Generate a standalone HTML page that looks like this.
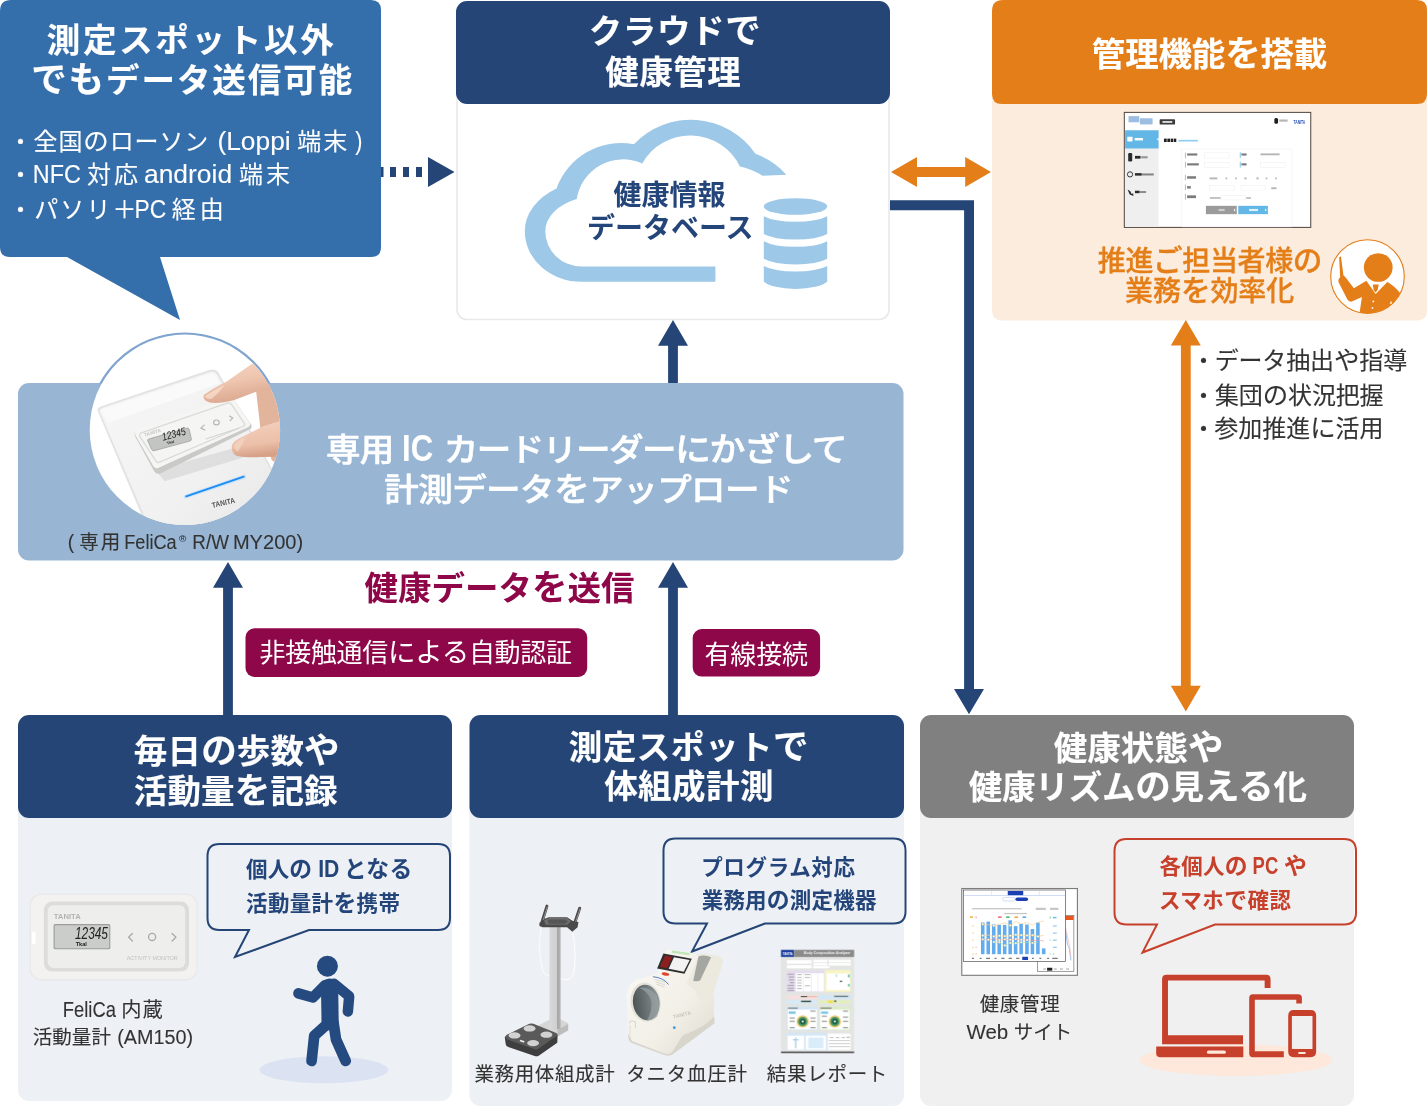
<!DOCTYPE html>
<html lang="ja">
<head>
<meta charset="utf-8">
<title>健康管理サービス 概要図</title>
<style>
html,body{margin:0;padding:0;background:#fff;}
body{width:1427px;height:1116px;overflow:hidden;}
svg{display:block;will-change:transform;}
text{font-family:"Liberation Sans", "Noto Sans CJK JP", sans-serif;white-space:pre;}
</style>
</head>
<body>
<svg width="1427" height="1116" viewBox="0 0 1427 1116" role="img" aria-label="健康管理サービス 概要図">
<!-- boxes -->
<g id="boxes">
  <!-- top-left blue callout -->
  <path d="M0 11 Q0 0 11 0 H371 Q381 0 381 10 V247 Q381 257 371 257 H160 L180 320 L67 257 H10 Q0 257 0 247 Z" fill="#356fab"/>
  <!-- cloud box -->
  <rect x="457" y="50" width="432" height="269.5" rx="10" ry="10" fill="#ffffff" stroke="#e9e9ed" stroke-width="1.6"/>
  <rect x="456" y="1" width="434" height="103" rx="11" ry="11" fill="#244575"/>
  <!-- orange box -->
  <path d="M992 60 H1427 V310 Q1427 320.5 1417 320.5 H1002 Q992 320.5 992 310 Z" fill="#fcecdd"/>
  <path d="M992 11 Q992 0 1003 0 H1417 Q1427 0 1427 10 V94 Q1427 104 1417 104 H1002 Q992 104 992 94 Z" fill="#e47e18"/>
  <!-- middle band -->
  <rect x="18" y="383" width="885.5" height="177.5" rx="11" ry="11" fill="#98b6d4"/>
  <!-- maroon labels -->
  <rect x="245.5" y="628.3" width="341.7" height="48.6" rx="9" ry="9" fill="#8e0849"/>
  <rect x="692.7" y="629.1" width="127.4" height="47.5" rx="9" ry="9" fill="#8e0849"/>
  <!-- bottom panels -->
  <rect x="18" y="760" width="434" height="341" rx="11" ry="11" fill="#edf0f5"/>
  <rect x="18" y="715" width="434" height="103" rx="11" ry="11" fill="#244575"/>
  <rect x="469.5" y="760" width="434.5" height="346" rx="11" ry="11" fill="#edf0f5"/>
  <rect x="469.5" y="715" width="434.5" height="103" rx="11" ry="11" fill="#244575"/>
  <rect x="920" y="760" width="434" height="346" rx="11" ry="11" fill="#f0f0f0"/>
  <rect x="920" y="715" width="434" height="103" rx="11" ry="11" fill="#808080"/>
  <!-- speech bubbles -->
  <path d="M219.500 844 H438 Q450 844 450 856 V918 Q450 930 438 930 H309 L235 957 L249 930 H219.500 Q207.500 930 207.500 918 V856 Q207.500 844 219.500 844 Z" fill="none" stroke="#244575" stroke-width="2"/>
  <path d="M675.500 838.500 H893.500 Q905.500 838.500 905.500 850.500 V911.500 Q905.500 923.500 893.500 923.500 H765 L692 951.500 L707 923.500 H675.500 Q663.500 923.500 663.500 911.500 V850.500 Q663.500 838.500 675.500 838.500 Z" fill="none" stroke="#244575" stroke-width="2"/>
  <path d="M1126.500 839 H1344 Q1356 839 1356 851 V912.500 Q1356 924.500 1344 924.500 H1215 L1142.500 952.500 L1157 924.500 H1126.500 Q1114.500 924.500 1114.500 912.500 V851 Q1114.500 839 1126.500 839 Z" fill="none" stroke="#c7402b" stroke-width="2"/>
</g>
<!-- arrows -->
<g id="arrows">
  <!-- dotted arrow from callout to cloud -->
  <g fill="#244575">
    <rect x="381" y="167" width="2.5" height="10"/>
    <rect x="390" y="167" width="6" height="10"/>
    <rect x="403" y="167" width="6" height="10"/>
    <rect x="416" y="167" width="6" height="10"/>
    <path d="M428 157 L454.500 172 L428 187 Z"/>
  </g>
  <!-- double orange arrow -->
  <path d="M891 172 L917 157 V167 H965.2 V157 L991 172 L965.2 187 V177 H917 V187 Z" fill="#e47e18"/>
  <!-- navy elbow arrow cloud -> panel 3 -->
  <path d="M890 200.300 H974 V689 H984 L969 714.300 L954 689 H964.100 V210.200 H890 Z" fill="#244575"/>
  <!-- up arrows -->
  <path d="M673 320 L688 345.700 H677.900 V383 H668.100 V345.700 H658 Z" fill="#244575"/>
  <path d="M228 562 L243 587.700 H232.900 V715 H223.100 V587.700 H213 Z" fill="#244575"/>
  <path d="M673 562 L688 587.700 H677.900 V715 H668.100 V587.700 H658 Z" fill="#244575"/>
  <!-- orange vertical double arrow -->
  <path d="M1185.800 320 L1200.800 345.600 H1190.700 V685.700 H1200.800 L1185.800 711.400 L1170.800 685.700 H1180.900 V345.600 H1170.800 Z" fill="#e47e18"/>
</g>
<!-- cloud -->
<g id="cloud" fill="#9dc8e8">
  <path d="M715.4 281.8 H581.5 A56.7 50.5 0 0 1 524.8 231.3 A67 50.5 0 0 1 556.5 188.4 A68.6 68.6 0 0 1 633.9 144.3 A78.3 78.3 0 0 1 755.4 153.8 A75.4 75.4 0 0 1 786.4 174.8 L762.6 175.8 A69.7 69.7 0 0 0 739.9 166.5 A55.3 55.3 0 0 0 642.2 163.4 A47.0 47.0 0 0 0 576.7 199.1 A52.7 35.2 0 0 0 545.3 231.3 A36.2 35.2 0 0 0 581.5 266.5 H715.4 Z"/>
  <ellipse cx="795.5" cy="206.5" rx="31.7" ry="8.3"/>
  <path d="M763.8 216.2 A36 10.45 0 0 0 827.2 216.2 V234 A36 10.6 0 0 1 763.8 234 Z"/>
  <path d="M763.8 241.3 A36 10.45 0 0 0 827.2 241.3 V258.8 A36 10.6 0 0 1 763.8 258.8 Z"/>
  <path d="M763.8 266 A36 10.45 0 0 0 827.2 266 V281.4 A33 10.4 0 0 1 763.8 281.4 Z"/>
</g>
<!-- reader -->
<g id="reader">
  <defs>
    <clipPath id="rdclip"><circle cx="184.9" cy="429.8" r="95.2"/></clipPath>
    <clipPath id="ringclip"><rect x="80" y="325" width="210" height="58.6"/></clipPath>
    <linearGradient id="rdbody" x1="0" y1="0" x2="1" y2="1">
      <stop offset="0" stop-color="#f6f6f6"/><stop offset="0.55" stop-color="#f1f1f1"/><stop offset="1" stop-color="#e4e4e4"/>
    </linearGradient>
    <linearGradient id="skin1" x1="0" y1="0" x2="0.3" y2="1">
      <stop offset="0" stop-color="#f6d9c8"/><stop offset="0.6" stop-color="#efc6b0"/><stop offset="1" stop-color="#dba88f"/>
    </linearGradient>
    <linearGradient id="skin2" x1="0" y1="0" x2="0.2" y2="1">
      <stop offset="0" stop-color="#f4d3c1"/><stop offset="0.7" stop-color="#ecc0a9"/><stop offset="1" stop-color="#d7a188"/>
    </linearGradient>
  </defs>
  <circle cx="184.9" cy="429.8" r="95.9" fill="none" stroke="#7fa4cf" stroke-width="3" clip-path="url(#ringclip)"/>
  <circle cx="184.9" cy="429.8" r="95.2" fill="#ffffff"/>
  <g clip-path="url(#rdclip)">
    <g transform="translate(80 325) scale(0.188172)">
      <!-- reader base -->
      <path d="M92 452 Q96 436 118 430 L690 238 Q722 230 738 256 L1130 960 L420 1230 Z" fill="#e3e3e3"/>
      <path d="M104 458 Q106 444 124 438 L690 250 Q716 243 730 264 L1120 960 L430 1220 Z" fill="url(#rdbody)"/>
      <path d="M110 452 L696 256 Q712 252 722 268 L745 310 L150 520 Z" fill="#fbfbfb" opacity="0.9"/>
      <!-- shadow of monitor -->
      <path d="M400 770 L870 640 L930 560 L960 600 L880 700 L450 830 Z" fill="#d9d9d9" opacity="0.8"/>
      <!-- activity monitor -->
      <path d="M300 560 L792 392 Q812 388 824 404 L910 530 Q918 548 900 556 L425 790 Q405 794 395 778 L292 590 Q286 568 300 560 Z" fill="#c9c9c7"/>
      <path d="M300 556 L792 388 Q810 384 820 398 L902 520 Q908 536 892 544 L415 760 Q398 764 390 750 L294 584 Q288 564 300 556 Z" fill="#f5f5f4"/>
      <path d="M322 574 L786 414 Q798 412 804 420 L874 524 Q878 534 868 538 L420 730 Q410 733 404 724 L318 592 Q314 580 322 574 Z" fill="none" stroke="#dadad8" stroke-width="7"/>
      <path d="M364 606 L568 548 Q578 546 580 554 L592 606 Q593 614 584 617 L394 668 Q384 670 381 662 L360 616 Q358 609 364 606 Z" fill="#c3c5c2" stroke="#9d9f9c" stroke-width="4"/>
      <g transform="translate(503 598) rotate(-15)">
        <text x="0" y="0" font-size="58" fill="#1e1e1e" text-anchor="middle" font-style="italic" textLength="128" lengthAdjust="spacingAndGlyphs">12345</text>
        <text x="-28" y="26" font-size="20" font-weight="700" fill="#222222" text-anchor="middle">Tkal</text>
      </g>
      <text transform="translate(388 580) rotate(-17)" x="0" y="0" font-size="26" font-weight="700" fill="#c4c4c4" text-anchor="middle">TANITA</text>
      <g fill="none" stroke="#b3b3b3" stroke-width="6" stroke-linecap="round" stroke-linejoin="round">
        <path d="M660 532 L642 548 L664 558"/>
        <ellipse cx="725" cy="518" rx="15" ry="13"/>
        <path d="M794 484 L812 494 L798 508"/>
      </g>
      <path d="M668 606 L846 548" stroke="#d4d4d4" stroke-width="6" fill="none"/>
      <!-- hand -->
      <path d="M930 300 L1100 250 L1100 760 L1020 720 L960 560 Z" fill="#e3b49c"/>
      <path d="M658 372 Q700 340 780 300 L905 212 Q960 180 1100 150 L1100 340 L960 345 L820 398 Q740 420 690 412 Q650 402 658 372 Z" fill="url(#skin1)"/>
      <path d="M806 650 Q806 620 850 600 L960 545 Q1010 520 1100 505 L1100 700 L960 702 Q880 706 836 696 Q806 686 806 650 Z" fill="url(#skin2)"/>
      <path d="M664 378 Q700 352 770 318 Q740 360 700 392 Q672 396 664 378 Z" fill="#f7dccb" opacity="0.8"/>
      <path d="M818 640 Q830 614 880 596 Q860 640 840 672 Q820 664 818 640 Z" fill="#f3d3c0" opacity="0.8"/>
      <!-- LED + logo -->
      <path d="M562 912 L872 806" stroke="#9fd0ff" stroke-width="22" stroke-linecap="round" opacity="0.45" fill="none"/>
      <path d="M564 911 L870 806" stroke="#1b8df2" stroke-width="9" stroke-linecap="round" fill="none"/>
      <text transform="translate(765 958) rotate(-13)" x="0" y="0" font-size="40" font-weight="700" fill="#555555" text-anchor="middle" textLength="124" lengthAdjust="spacingAndGlyphs">TANITA</text>
    </g>
  </g>
</g>
<!-- admin -->
<g id="admin" transform="translate(1110 105) scale(0.154179)">
  <rect x="93" y="48" width="1209" height="746" fill="#ffffff" stroke="#5a5049" stroke-width="7"/>
  <rect x="98" y="164" width="217" height="626" fill="#efefef"/>
  <rect x="98" y="164" width="217" height="118" fill="#62b7e6"/>
  <path d="M315 212 L303 222 L315 232 Z" fill="#ffffff"/>
  <g fill="#ffffff"><rect x="112" y="206" width="34" height="30" rx="3"/><rect x="160" y="214" width="54" height="16"/></g>
  <g fill="#2a2a2a">
    <rect x="118" y="312" width="26" height="54" rx="8"/><rect x="162" y="330" width="36" height="18"/><rect x="202" y="332" width="42" height="14" opacity="0.45"/>
    <circle cx="130" cy="450" r="17" fill="none" stroke="#2a2a2a" stroke-width="6"/><rect x="162" y="442" width="44" height="16"/><rect x="208" y="444" width="76" height="13" opacity="0.55"/>
    <path d="M114 548 L132 560 L140 578 L150 572 L152 590 L128 580 Z"/><rect x="162" y="556" width="30" height="16"/><rect x="194" y="558" width="40" height="13" opacity="0.5"/>
  </g>
  <g fill="#8bb4dc" opacity="0.85"><rect x="120" y="72" width="70" height="40"/><rect x="194" y="86" width="82" height="40"/></g>
  <rect x="322" y="92" width="100" height="35" rx="6" fill="#3c3c3c"/>
  <rect x="340" y="104" width="64" height="12" fill="#dddddd"/>
  <rect x="1066" y="84" width="24" height="38" rx="10" fill="#1e1e1e"/>
  <rect x="1098" y="94" width="54" height="14" fill="#b5b5b5"/>
  <text x="1228" y="122" font-size="34" font-weight="700" fill="#2a52b8" text-anchor="middle" textLength="76" lengthAdjust="spacingAndGlyphs">TANITA</text>
  <g fill="#222222"><rect x="350" y="218" width="18" height="22"/><rect x="372" y="218" width="18" height="22"/><rect x="394" y="218" width="16" height="22"/><rect x="414" y="218" width="16" height="22"/></g>
  <rect x="444" y="226" width="126" height="11" fill="#8fd0f0"/>
  <rect x="466" y="286" width="714" height="504" fill="#ffffff" stroke="#f0f0f0" stroke-width="4"/>
  <g fill="#62b7e6"><rect x="486" y="308" width="5" height="38"/><rect x="486" y="368" width="5" height="38"/><rect x="486" y="454" width="5" height="34"/><rect x="486" y="516" width="5" height="36"/><rect x="486" y="576" width="5" height="38"/><rect x="842" y="306" width="5" height="38"/><rect x="842" y="368" width="5" height="38"/></g>
  <g fill="#444444" opacity="0.7"><rect x="500" y="314" width="66" height="14"/><rect x="500" y="378" width="76" height="14"/><rect x="500" y="462" width="58" height="16"/><rect x="500" y="526" width="24" height="16"/><rect x="500" y="586" width="58" height="18"/><rect x="852" y="314" width="34" height="14"/><rect x="852" y="378" width="34" height="14"/></g>
  <g fill="#777777" opacity="0.55"><rect x="976" y="314" width="124" height="12"/><rect x="646" y="470" width="50" height="12"/><rect x="750" y="470" width="10" height="12"/><rect x="812" y="470" width="10" height="12"/><rect x="872" y="470" width="14" height="12"/><rect x="950" y="470" width="14" height="12"/><rect x="1010" y="470" width="10" height="12"/><rect x="1072" y="470" width="10" height="12"/><rect x="1046" y="534" width="34" height="12"/><rect x="648" y="598" width="70" height="10"/><rect x="884" y="598" width="30" height="10"/></g>
  <g fill="#ffffff" stroke="#ececec" stroke-width="3"><rect x="612" y="310" width="162" height="34"/><rect x="612" y="374" width="162" height="30"/><rect x="976" y="374" width="160" height="32"/><rect x="646" y="522" width="160" height="30"/><rect x="850" y="522" width="160" height="30"/><rect x="720" y="586" width="160" height="30"/></g>
  <rect x="622" y="654" width="200" height="54" fill="#9b9b9b"/>
  <rect x="832" y="654" width="192" height="54" fill="#62b7e6"/>
  <g fill="#ffffff"><path d="M804 672 L814 681 L804 690 Z"/><path d="M1006 672 L1016 681 L1006 690 Z"/><rect x="902" y="674" width="58" height="14" opacity="0.8"/><rect x="704" y="674" width="40" height="14" opacity="0.5"/></g>
</g>
<!-- presenter -->
<g id="presenter">
  <clipPath id="presclip"><circle cx="1367.5" cy="276.6" r="36.8"/></clipPath>
  <circle cx="1367.5" cy="276.6" r="36.8" fill="#ffffff" stroke="#e47e18" stroke-width="1.1"/>
  <g clip-path="url(#presclip)">
    <g transform="translate(1320 230) scale(0.080645)" fill="#e47e18">
      <circle cx="722" cy="465" r="178"/>
      <path d="M237 338 L260 325 L290 562 Q320 585 335 610 L420 722 L575 628 L690 795 L835 645 Q920 690 1000 790 L1060 1100 H480 L520 832 L388 890 Q355 892 338 860 L232 650 Q218 612 250 585 Z"/>
      <path d="M655 675 H728 L716 742 L690 774 L666 746 Z"/>
      <circle cx="661" cy="886" r="11" fill="#ffffff"/>
      <circle cx="651" cy="966" r="11" fill="#ffffff"/>
      <path d="M862 912 L885 880 L893 915 Z" fill="#ffffff"/>
    </g>
  </g>
</g>
<!-- am150 -->
<g id="am150" transform="translate(20 880) scale(0.16129)">
  <rect x="58" y="84" width="1044" height="540" rx="75" ry="75" fill="#e6e4e4" opacity="0.55"/>
  <rect x="68" y="92" width="1026" height="522" rx="68" ry="68" fill="#f4f2f1"/>
  <rect x="73" y="322" width="24" height="76" rx="8" ry="8" fill="#ffffff"/>
  <rect x="148" y="134" width="900" height="434" rx="52" ry="52" fill="#dcdcdc"/>
  <rect x="172" y="156" width="852" height="390" rx="36" ry="36" fill="#eeeeed"/>
  <text x="293" y="241" font-size="50" font-weight="700" fill="#b4b4b4" text-anchor="middle" textLength="168" lengthAdjust="spacingAndGlyphs">TANITA</text>
  <rect x="208" y="273" width="352" height="157" rx="10" ry="10" fill="#9c9e9b"/>
  <rect x="215" y="280" width="338" height="143" rx="6" ry="6" fill="#cbcdca"/>
  <text x="443" y="368" font-size="100" font-weight="400" fill="#222222" text-anchor="middle" textLength="205" lengthAdjust="spacingAndGlyphs" font-style="italic">12345</text>
  <text x="380" y="409" font-size="32" font-weight="700" fill="#222222" text-anchor="middle" textLength="70" lengthAdjust="spacingAndGlyphs">Tkal</text>
  <g fill="none" stroke="#a9a9a9" stroke-width="8" stroke-linecap="round" stroke-linejoin="round">
    <path d="M697 332 L673 355 L697 378"/>
    <circle cx="819" cy="353" r="22"/>
    <path d="M943 332 L967 355 L943 378"/>
  </g>
  <text x="820" y="499" font-size="30" font-weight="400" fill="#c2c2c2" text-anchor="middle" textLength="316" lengthAdjust="spacingAndGlyphs">ACTIVITY MONITOR</text>
</g>
<!-- walker -->
<g id="walker">
  <ellipse cx="323.9" cy="1069.8" rx="64.3" ry="13.5" fill="#dbe3f3"/>
  <g transform="translate(250 940) scale(0.134409)" fill="none" stroke="#244a80" stroke-linecap="round" stroke-linejoin="round">
    <circle cx="576" cy="195" r="78" fill="#244a80" stroke="none"/>
    <path d="M592 350 L596 610" stroke-width="128"/>
    <path d="M560 335 L468 428 L360 397" stroke-width="78"/>
    <path d="M625 325 L738 418 L728 532" stroke-width="78"/>
    <path d="M575 625 L478 712 L458 900" stroke-width="80"/>
    <path d="M622 620 L640 740 L712 900" stroke-width="80"/>
  </g>
</g>
<!-- scale -->
<g id="scale" transform="translate(490 890) scale(0.175193)">
  <defs>
    <linearGradient id="colg" x1="0" y1="0" x2="1" y2="0">
      <stop offset="0" stop-color="#d9d9d9"/><stop offset="0.68" stop-color="#cfcfcf"/><stop offset="0.7" stop-color="#a6a6a6"/><stop offset="1" stop-color="#b4b4b4"/>
    </linearGradient>
  </defs>
  <!-- cables -->
  <g fill="none" stroke="#ffffff" stroke-width="5" stroke-linecap="round">
    <path d="M292 215 C275 300 285 420 305 470 Q320 492 342 488"/>
    <path d="M472 245 C490 330 492 440 470 495 Q440 525 405 505"/>
  </g>
  <!-- column base -->
  <path d="M278 772 L345 738 H402 L446 760 V800 L385 836 L278 800 Z" fill="#d6d6d6"/>
  <path d="M385 800 L446 765 V800 L385 836 Z" fill="#bdbdbd"/>
  <!-- column -->
  <rect x="339" y="205" width="64" height="590" fill="url(#colg)"/>
  <!-- foot plate -->
  <path d="M84 838 L90 882 Q92 892 104 896 L255 948 Q268 952 280 944 L384 872 L386 828 Z" fill="#3e3e3e"/>
  <path d="M96 826 L224 764 Q236 759 248 764 L378 816 Q392 824 380 834 L276 906 Q264 913 250 908 L96 852 Q78 840 96 826 Z" fill="#5a5a5a"/>
  <g fill="#d2d2d2">
    <ellipse cx="226" cy="790" rx="34" ry="18"/>
    <ellipse cx="140" cy="830" rx="34" ry="18"/>
    <ellipse cx="322" cy="826" rx="34" ry="18"/>
    <ellipse cx="246" cy="874" rx="34" ry="18"/>
  </g>
  <rect x="170" y="858" width="26" height="10" fill="#e8e8e8" transform="rotate(18 183 863)"/>
  <!-- head unit -->
  <path d="M282 188 L300 168 L335 155 H440 L470 176 L505 182 L500 212 L470 238 L440 212 H300 L282 205 Z" fill="#4a4a4a"/>
  <path d="M308 172 L340 158 H438 L462 178 L440 198 H318 Z" fill="#6e6e6e"/>
  <path d="M330 168 H430 L445 180 L430 192 H335 Z" fill="#555555"/>
  <g stroke="#4a4a4a" stroke-width="17" stroke-linecap="round" fill="none">
    <path d="M298 178 L325 92"/>
    <path d="M484 186 L512 104"/>
  </g>
  <g stroke="#9a9a9a" stroke-width="5" stroke-linecap="round" fill="none">
    <path d="M304 170 L327 96"/>
    <path d="M490 178 L514 108"/>
  </g>
</g>
<!-- bpm -->
<g id="bpm" transform="translate(490 890) scale(0.175193)">
  <defs>
    <linearGradient id="bpmg" x1="0" y1="0" x2="1" y2="1">
      <stop offset="0" stop-color="#fbfaf5"/><stop offset="0.6" stop-color="#f1efe6"/><stop offset="1" stop-color="#dedbd0"/>
    </linearGradient>
    <linearGradient id="cuffg" x1="0" y1="0" x2="1" y2="0">
      <stop offset="0" stop-color="#4d5456"/><stop offset="0.55" stop-color="#6d7678"/><stop offset="1" stop-color="#8f9899"/>
    </linearGradient>
  </defs>
  <!-- rear arm-rest wing -->
  <path d="M1150 380 Q1180 360 1230 362 L1310 380 Q1335 392 1328 420 L1275 590 L1282 640 L1270 760 L1040 920 L1060 560 Z" fill="#ece9df"/>
  <path d="M1190 378 Q1230 368 1262 384 L1200 515 Q1185 525 1160 518 Z" fill="#a4a6a2"/>
  <!-- main body -->
  <path d="M780 590 Q790 520 880 500 L960 475 L1000 350 Q1010 340 1030 342 L1150 358 L1190 378 L1120 540 Q1180 560 1200 640 L1270 600 L1280 720 Q1230 770 1190 790 L1100 830 L1040 925 Q1020 942 990 932 L810 862 Q790 850 788 820 Z" fill="url(#bpmg)"/>
  <path d="M788 820 L810 862 L990 932 Q1020 942 1040 925 L1100 830 L1190 790 Q1230 770 1280 720 L1282 760 L1040 940 Q1015 950 990 940 L806 872 Q788 860 788 820 Z" fill="#d8d5ca"/>
  <!-- cuff -->
  <ellipse cx="888" cy="640" rx="86" ry="112" fill="#e4e1d8" transform="rotate(-8 888 640)"/>
  <ellipse cx="892" cy="642" rx="76" ry="102" fill="url(#cuffg)" transform="rotate(-8 892 642)"/>
  <path d="M850 560 Q900 545 950 600 Q975 660 955 720 Q930 745 895 745 Q930 690 920 630 Q900 575 850 560 Z" fill="#9aa3a4" opacity="0.7"/>
  <!-- display -->
  <path d="M990 362 L1152 392 L1110 478 L954 448 Z" fill="#2e2e2e"/>
  <path d="M1050 384 L1140 400 L1106 466 L1020 450 Z" fill="#f2f2f2"/>
  <path d="M1000 374 L1040 382 L1012 446 L970 438 Z" fill="#8e1f1f"/>
  <path d="M1040 346 L1140 360 L1136 372 L1036 358 Z" fill="#bfe6b5"/>
  <ellipse cx="1002" cy="480" rx="22" ry="9" fill="#e0452c" transform="rotate(10 1002 480)"/>
  <path d="M930 495 Q990 500 1020 540" stroke="#3a6fc2" stroke-width="5" fill="none"/>
  <g stroke="#cfccc2" stroke-width="4" fill="none">
    <path d="M940 510 L1000 528"/><path d="M945 524 L1000 542"/><path d="M950 538 L995 553"/>
  </g>
  <!-- door + details -->
  <path d="M796 760 Q796 745 812 748 L830 752 V790" stroke="#d2cfc5" stroke-width="5" fill="none"/>
  <path d="M800 770 L800 850" stroke="#dcd9cf" stroke-width="5" fill="none"/>
  <text transform="translate(1098 722) rotate(-14)" x="0" y="0" font-size="30" font-weight="700" fill="#c9c6bb" text-anchor="middle">TANITA</text>
  <circle cx="1052" cy="786" r="8" fill="#3d9be0"/>
</g>
<!-- report -->
<g id="report" transform="translate(760 935) scale(0.116505)">
  <rect x="180" y="127" width="628" height="888" fill="#e3e5e3"/>
  <rect x="180" y="127" width="112" height="61" fill="#1c3f9e"/>
  <rect x="292" y="127" width="516" height="61" fill="#8a8a8a"/>
  <text x="236" y="172" font-size="36" font-weight="700" fill="#ffffff" text-anchor="middle" textLength="84" lengthAdjust="spacingAndGlyphs">TANITA</text>
  <text x="576" y="168" font-size="34" font-weight="700" font-style="italic" fill="#f4f4f4" text-anchor="middle" textLength="400" lengthAdjust="spacingAndGlyphs">Body Composition Analyzer</text>
  <rect x="180" y="1000" width="628" height="15" fill="#5c5c5c"/>
  <g fill="#ffffff">
    <rect x="230" y="216" width="212" height="30"/><rect x="230" y="258" width="212" height="28"/>
    <rect x="456" y="212" width="122" height="22"/><rect x="590" y="212" width="190" height="22"/>
    <rect x="456" y="240" width="122" height="22"/><rect x="590" y="240" width="190" height="22"/>
    <rect x="456" y="266" width="140" height="20"/>
  </g>
  <rect x="225" y="305" width="326" height="182" fill="#e6dcef"/>
  <g fill="#ffffff">
    <rect x="306" y="328" width="64" height="156"/><rect x="374" y="328" width="64" height="156"/><rect x="442" y="328" width="52" height="156"/><rect x="498" y="328" width="50" height="156"/>
  </g>
  <g fill="#7a7a7a" opacity="0.55">
    <rect x="236" y="332" width="56" height="10"/><rect x="246" y="356" width="46" height="10"/><rect x="246" y="380" width="46" height="10"/><rect x="256" y="404" width="36" height="10"/><rect x="236" y="428" width="56" height="10"/><rect x="236" y="452" width="56" height="10"/><rect x="236" y="472" width="56" height="10"/>
    <rect x="318" y="336" width="40" height="8"/><rect x="318" y="360" width="40" height="8"/><rect x="318" y="384" width="40" height="8"/><rect x="318" y="408" width="40" height="8"/><rect x="318" y="432" width="40" height="8"/><rect x="318" y="456" width="40" height="8"/>
    <rect x="384" y="336" width="46" height="8"/><rect x="384" y="360" width="46" height="8"/><rect x="384" y="432" width="46" height="8"/>
  </g>
  <rect x="555" y="300" width="222" height="188" fill="#f8f4c4"/>
  <rect x="572" y="330" width="198" height="142" fill="#ffffff"/>
  <g fill="#48b4a4"><rect x="756" y="338" width="12" height="26"/><rect x="756" y="420" width="12" height="22"/><rect x="654" y="338" width="5" height="22"/></g>
  <rect x="686" y="392" width="18" height="12" fill="#3a5a4a"/>
  <rect x="225" y="516" width="270" height="34" fill="#f6dfe0"/>
  <rect x="500" y="516" width="276" height="34" fill="#d3e8f7"/>
  <rect x="225" y="560" width="270" height="30" fill="#d6ebf8"/>
  <rect x="500" y="560" width="276" height="30" fill="#e2efc0"/>
  <g fill="#3c4a3c"><rect x="350" y="524" width="56" height="9"/><rect x="352" y="564" width="86" height="12"/><rect x="636" y="522" width="120" height="8"/><rect x="636" y="562" width="18" height="12"/></g>
  <rect x="584" y="562" width="40" height="22" fill="#f4e04c"/>
  <rect x="406" y="524" width="86" height="9" fill="#f4b8a0"/>
  <rect x="228" y="614" width="268" height="202" fill="#d4e7f6"/>
  <rect x="506" y="614" width="270" height="202" fill="#dcecc8"/>
  <rect x="238" y="640" width="250" height="170" fill="#ffffff"/>
  <rect x="516" y="640" width="252" height="170" fill="#ffffff"/>
  <g>
    <circle cx="366" cy="742" r="52" fill="#f3c469"/><circle cx="366" cy="742" r="40" fill="#3f9a68"/><circle cx="366" cy="742" r="24" fill="#1e5b46"/><circle cx="366" cy="742" r="9" fill="#e8f3ec"/>
    <circle cx="642" cy="742" r="52" fill="#f3c469"/><circle cx="642" cy="742" r="40" fill="#3f9a68"/><circle cx="642" cy="742" r="24" fill="#1e5b46"/><circle cx="642" cy="742" r="9" fill="#e8f3ec"/>
  </g>
  <g fill="#555555" opacity="0.6">
    <rect x="254" y="708" width="44" height="10"/><rect x="254" y="736" width="44" height="10"/><rect x="254" y="790" width="44" height="10"/>
    <rect x="432" y="648" width="44" height="10"/><rect x="432" y="708" width="44" height="10"/><rect x="432" y="736" width="44" height="10"/><rect x="432" y="790" width="44" height="10"/>
    <rect x="530" y="692" width="44" height="10"/><rect x="530" y="736" width="44" height="10"/><rect x="530" y="790" width="44" height="10"/>
    <rect x="712" y="648" width="44" height="10"/><rect x="712" y="700" width="44" height="10"/><rect x="712" y="736" width="44" height="10"/><rect x="712" y="790" width="44" height="10"/>
    <rect x="240" y="622" width="84" height="12"/><rect x="518" y="622" width="96" height="12"/>
  </g>
  <g fill="#58b6e0" opacity="0.8"><rect x="246" y="656" width="60" height="20"/><rect x="524" y="656" width="60" height="20"/></g>
  <rect x="228" y="840" width="344" height="150" fill="#d4e7f6"/>
  <rect x="236" y="864" width="142" height="120" fill="#ffffff"/>
  <rect x="392" y="864" width="174" height="120" fill="#ffffff"/>
  <rect x="414" y="880" width="130" height="92" fill="#d9ecf9"/>
  <path d="M306 878 v94 M280 900 h52" stroke="#9cc8ea" stroke-width="10" fill="none"/>
  <rect x="582" y="846" width="194" height="140" fill="#ffffff"/>
  <g fill="#777777" opacity="0.5">
    <rect x="600" y="876" width="30" height="8"/><rect x="650" y="876" width="30" height="8"/><rect x="700" y="876" width="30" height="8"/><rect x="744" y="872" width="24" height="12"/>
    <rect x="590" y="904" width="180" height="6"/><rect x="590" y="930" width="180" height="6"/><rect x="590" y="956" width="180" height="6"/>
  </g>
</g>
<!-- web -->
<g id="web" transform="translate(940 870) scale(0.16129)">
  <rect x="135" y="115" width="717" height="538" fill="#ffffff" stroke="#7d7d7d" stroke-width="7"/>
  <!-- back window -->
  <rect x="604" y="282" width="226" height="346" fill="#ffffff" stroke="#666666" stroke-width="4"/>
  <rect x="606" y="284" width="222" height="26" fill="#e4571e"/>
  <path d="M780 380 L790 460 L800 480 L806 520 L812 560" stroke="#9dbce6" stroke-width="6" fill="none"/>
  <path d="M780 360 L792 420 L804 470 L812 540" stroke="#f3b6b6" stroke-width="4" fill="none"/>
  <rect x="664" y="606" width="32" height="18" fill="#222222"/>
  <g fill="#888888" opacity="0.6"><rect x="640" y="610" width="18" height="8"/><rect x="706" y="610" width="18" height="8"/><rect x="744" y="610" width="18" height="8"/><rect x="782" y="610" width="18" height="8"/></g>
  <!-- front window -->
  <rect x="146" y="124" width="632" height="444" fill="#ffffff" stroke="#444444" stroke-width="4"/>
  <path d="M150 158 H776" stroke="#9db5ee" stroke-width="3"/>
  <rect x="420" y="130" width="96" height="26" fill="#1c3fb4"/>
  <path d="M320 130 V156 M616 130 V156" stroke="#c5d0ee" stroke-width="3"/>
  <rect x="388" y="170" width="80" height="22" rx="11" ry="11" fill="#ffffff" stroke="#a9b9ea" stroke-width="3"/>
  <rect x="468" y="170" width="78" height="22" rx="11" ry="11" fill="#1c3fb4"/>
  <g fill="#9a9a9a" opacity="0.55"><rect x="198" y="236" width="308" height="8"/><rect x="594" y="234" width="62" height="14"/><rect x="682" y="234" width="52" height="14"/><rect x="398" y="266" width="140" height="8"/></g>
  <g><rect x="360" y="288" width="22" height="9" fill="#ef5a6c"/><rect x="410" y="288" width="22" height="9" fill="#38b56a"/><rect x="462" y="288" width="22" height="9" fill="#f5a020"/><rect x="512" y="288" width="22" height="9" fill="#4a9ff0"/></g>
  <g fill="#62acee">
    <rect x="254" y="326" width="22" height="196"/><rect x="288" y="320" width="22" height="202"/><rect x="322" y="338" width="22" height="184"/><rect x="356" y="340" width="22" height="182"/><rect x="390" y="340" width="22" height="182"/><rect x="424" y="312" width="22" height="210"/><rect x="458" y="348" width="22" height="174"/><rect x="492" y="334" width="22" height="188"/><rect x="528" y="338" width="22" height="184"/><rect x="562" y="366" width="22" height="156"/><rect x="596" y="326" width="22" height="196"/><rect x="632" y="486" width="22" height="36"/>
  </g>
  <g fill="none" stroke-width="4">
    <path d="M262 336 L300 340 L334 346 L368 336 L402 328 L436 344 L470 318 L504 334 L540 326 L574 342 L608 324 L644 316" stroke="#f8cf8e"/>
    <path d="M262 406 L300 404 L334 412 L368 408 L402 410 L436 408 L470 402 L504 404 L540 406 L574 404 L608 412 L644 404" stroke="#f8cf8e"/>
    <path d="M262 430 L300 432 L334 426 L368 434 L402 430 L436 432 L470 428 L504 432 L540 434 L574 436 L608 436 L644 440" stroke="#f2a0aa"/>
    <path d="M334 446 L368 448 L402 468 L436 452 L470 454 L504 448 L574 452 L608 448" stroke="#a6dcb4"/>
  </g>
  <g fill="#fffbe0" stroke="#f3d98a" stroke-width="2">
    <circle cx="265" cy="336" r="6"/><circle cx="334" cy="346" r="6"/><circle cx="436" cy="344" r="6"/>
    <circle cx="265" cy="406" r="6"/><circle cx="334" cy="412" r="6"/><circle cx="368" cy="408" r="6"/><circle cx="402" cy="410" r="6"/><circle cx="436" cy="408" r="6"/><circle cx="470" cy="402" r="6"/><circle cx="504" cy="404" r="6"/><circle cx="540" cy="406" r="6"/><circle cx="574" cy="404" r="6"/><circle cx="608" cy="412" r="6"/>
    <circle cx="265" cy="430" r="6"/><circle cx="300" cy="432" r="6"/><circle cx="368" cy="434" r="6"/><circle cx="402" cy="430" r="6"/><circle cx="436" cy="432" r="6"/><circle cx="470" cy="428" r="6"/><circle cx="504" cy="432" r="6"/><circle cx="540" cy="434" r="6"/>
    <circle cx="334" cy="446" r="6"/><circle cx="368" cy="448" r="6"/><circle cx="402" cy="468" r="6"/><circle cx="436" cy="452" r="6"/><circle cx="470" cy="454" r="6"/><circle cx="504" cy="448" r="6"/><circle cx="574" cy="452" r="6"/>
  </g>
  <g fill="#f5a020" opacity="0.7"><rect x="186" y="286" width="18" height="12"/><rect x="200" y="344" width="8" height="6"/><rect x="200" y="388" width="8" height="6"/><rect x="200" y="432" width="8" height="6"/><rect x="200" y="476" width="8" height="6"/><rect x="200" y="518" width="8" height="6"/></g>
  <g fill="#ef6a8a" opacity="0.6"><rect x="220" y="288" width="8" height="12"/><rect x="220" y="476" width="8" height="6"/><rect x="220" y="518" width="8" height="6"/></g>
  <g fill="#3aa0e8" opacity="0.7"><rect x="700" y="290" width="22" height="10"/><rect x="700" y="344" width="24" height="6"/><rect x="700" y="388" width="24" height="6"/><rect x="700" y="432" width="24" height="6"/><rect x="700" y="476" width="24" height="6"/><rect x="700" y="518" width="8" height="6"/></g>
  <g fill="#38b56a" opacity="0.7"><rect x="680" y="288" width="6" height="12"/><rect x="680" y="432" width="6" height="6"/><rect x="680" y="518" width="6" height="6"/></g>
  <g fill="#444444" opacity="0.7"><rect x="198" y="544" width="12" height="8"/><rect x="246" y="544" width="12" height="8"/><rect x="286" y="544" width="24" height="8"/><rect x="338" y="544" width="12" height="8"/><rect x="380" y="544" width="20" height="8"/><rect x="426" y="544" width="20" height="8"/><rect x="472" y="544" width="20" height="8"/><rect x="570" y="544" width="12" height="8"/><rect x="616" y="544" width="12" height="8"/><rect x="664" y="544" width="12" height="8"/><rect x="696" y="544" width="34" height="8"/></g>
  <rect x="510" y="538" width="36" height="20" fill="#1c3fb4"/>
</g>
<!-- devices -->
<g id="devices">
  <ellipse cx="1236" cy="1060.1" rx="96.4" ry="15.9" fill="#fde8db"/>
  <g transform="translate(1130 960) scale(0.147168)" fill="#c7402b">
    <path d="M218 572 V130 Q218 100 248 100 H925 Q955 100 955 130 V190 H915 V140 H258 V512 H768 V572 Z"/>
    <path d="M178 588 H770 V660 H202 Q178 660 178 636 Z M535 615 Q522 615 522 626 Q522 637 535 637 H640 Q652 637 652 626 Q652 615 640 615 Z" fill-rule="evenodd"/>
    <path d="M810 257 Q810 232 835 232 H1143 Q1168 232 1168 257 V295 H1130 V270 H848 V620 H1045 V660 H835 Q810 660 810 635 Z"/>
    <path d="M1075 378 Q1075 340 1113 340 H1227 Q1265 340 1265 378 V622 Q1265 660 1227 660 H1113 Q1075 660 1075 622 Z M1100 380 V605 H1240 V380 Z M1150 625 Q1142 625 1142 631.500 Q1142 638 1150 638 H1187 Q1195 638 1195 631.500 Q1195 625 1187 625 Z" fill-rule="evenodd"/>
  </g>
</g>
<g id="labels">
<g><text x="190.23" y="52.31" font-size="33.5" font-weight="700" fill="#ffffff" text-anchor="middle" textLength="286.99" lengthAdjust="spacing" stroke="#ffffff" stroke-width="0.12" stroke-linejoin="round">測定スポット以外</text></g>
<g><text x="191.65" y="91.94" font-size="33.5" font-weight="700" fill="#ffffff" text-anchor="middle" textLength="321.05" lengthAdjust="spacing" stroke="#ffffff" stroke-width="0.12" stroke-linejoin="round"><tspan font-size="35.51">でも</tspan>データ送信可能</text></g>
<g><text x="20.48" y="149.54" font-size="24" font-weight="400" fill="#ffffff" text-anchor="middle" stroke="#ffffff" stroke-width="0.1" stroke-linejoin="round">・</text><text x="120.97" y="149.54" font-size="24" font-weight="400" fill="#ffffff" text-anchor="middle" textLength="174.71" lengthAdjust="spacing" stroke="#ffffff" stroke-width="0.1" stroke-linejoin="round">全国<tspan font-size="25.44">の</tspan>ローソン</text> <text x="254.05" y="149.54" font-size="25.92" font-weight="400" fill="#ffffff" text-anchor="middle" textLength="73.24" lengthAdjust="spacingAndGlyphs" stroke="#ffffff" stroke-width="0.1" stroke-linejoin="round">(Loppi</text> <text x="322.21" y="149.54" font-size="24" font-weight="400" fill="#ffffff" text-anchor="middle" textLength="49.88" lengthAdjust="spacing" stroke="#ffffff" stroke-width="0.1" stroke-linejoin="round">端末</text> <text x="358.76" y="149.54" font-size="25.92" font-weight="400" fill="#ffffff" text-anchor="middle" textLength="7.17" lengthAdjust="spacingAndGlyphs" stroke="#ffffff" stroke-width="0.1" stroke-linejoin="round">)</text></g>
<g><text x="20.48" y="183.27" font-size="24" font-weight="400" fill="#ffffff" text-anchor="middle" stroke="#ffffff" stroke-width="0.1" stroke-linejoin="round">・</text><text x="56.86" y="183.27" font-size="25.92" font-weight="400" fill="#ffffff" text-anchor="middle" textLength="48.07" lengthAdjust="spacingAndGlyphs" stroke="#ffffff" stroke-width="0.1" stroke-linejoin="round">NFC</text> <text x="112.5" y="183.27" font-size="24" font-weight="400" fill="#ffffff" text-anchor="middle" textLength="51.02" lengthAdjust="spacing" stroke="#ffffff" stroke-width="0.1" stroke-linejoin="round">対応</text> <text x="188.04" y="183.27" font-size="25.92" font-weight="400" fill="#ffffff" text-anchor="middle" textLength="88.1" lengthAdjust="spacingAndGlyphs" stroke="#ffffff" stroke-width="0.1" stroke-linejoin="round">android</text> <text x="264.44" y="183.27" font-size="24" font-weight="400" fill="#ffffff" text-anchor="middle" textLength="51.06" lengthAdjust="spacing" stroke="#ffffff" stroke-width="0.1" stroke-linejoin="round">端末</text></g>
<g><text x="20.48" y="217.74" font-size="24" font-weight="400" fill="#ffffff" text-anchor="middle" stroke="#ffffff" stroke-width="0.1" stroke-linejoin="round">・</text><text x="85.35" y="217.74" font-size="24" font-weight="400" fill="#ffffff" text-anchor="middle" textLength="102.16" lengthAdjust="spacing" stroke="#ffffff" stroke-width="0.1" stroke-linejoin="round">パソリ＋</text><text x="150.43" y="217.74" font-size="25.92" font-weight="400" fill="#ffffff" text-anchor="middle" textLength="31.68" lengthAdjust="spacingAndGlyphs" stroke="#ffffff" stroke-width="0.1" stroke-linejoin="round">PC</text> <text x="197.74" y="217.74" font-size="24" font-weight="400" fill="#ffffff" text-anchor="middle" textLength="51.8" lengthAdjust="spacing" stroke="#ffffff" stroke-width="0.1" stroke-linejoin="round">経由</text></g>
<g><text x="674.71" y="43.07" font-size="33.5" font-weight="700" fill="#ffffff" text-anchor="middle" textLength="172.15" lengthAdjust="spacing" stroke="#ffffff" stroke-width="0.12" stroke-linejoin="round">クラウド<tspan font-size="35.51">で</tspan></text></g>
<g><text x="673.06" y="84.17" font-size="33.5" font-weight="700" fill="#ffffff" text-anchor="middle" textLength="135.61" lengthAdjust="spacing" stroke="#ffffff" stroke-width="0.12" stroke-linejoin="round">健康管理</text></g>
<g><text x="669.5" y="205.48" font-size="28" font-weight="700" fill="#24457a" text-anchor="middle" textLength="112.24" lengthAdjust="spacing">健康情報</text></g>
<g><text x="670.31" y="238.1" font-size="28" font-weight="700" fill="#24457a" text-anchor="middle" textLength="166.5" lengthAdjust="spacing">データベース</text></g>
<g><text x="1209.56" y="65.51" font-size="33.5" font-weight="700" fill="#ffffff" text-anchor="middle" textLength="235.46" lengthAdjust="spacing" stroke="#ffffff" stroke-width="0.12" stroke-linejoin="round">管理機能<tspan font-size="35.51">を</tspan>搭載</text></g>
<g><text x="1210.15" y="270.6" font-size="28" font-weight="500" fill="#e47e18" text-anchor="middle" textLength="224.63" lengthAdjust="spacing" stroke="#e47e18" stroke-width="0.3" stroke-linejoin="round">推進<tspan font-size="29.68">ご</tspan>担当者様<tspan font-size="29.68">の</tspan></text></g>
<g><text x="1209.67" y="301.45" font-size="28" font-weight="500" fill="#e47e18" text-anchor="middle" textLength="169.12" lengthAdjust="spacing" stroke="#e47e18" stroke-width="0.3" stroke-linejoin="round">業務<tspan font-size="29.68">を</tspan>効率化</text></g>
<g><text x="1203.56" y="369" font-size="24" font-weight="400" fill="#333333" text-anchor="middle" stroke="#333333" stroke-width="0.1" stroke-linejoin="round">・</text><text x="1310.88" y="369" font-size="24" font-weight="400" fill="#333333" text-anchor="middle" textLength="192.49" lengthAdjust="spacing" stroke="#333333" stroke-width="0.1" stroke-linejoin="round">データ抽出<tspan font-size="25.44">や</tspan>指導</text></g>
<g><text x="1203.56" y="403.56" font-size="24" font-weight="400" fill="#333333" text-anchor="middle" stroke="#333333" stroke-width="0.1" stroke-linejoin="round">・</text><text x="1299.31" y="403.56" font-size="24" font-weight="400" fill="#333333" text-anchor="middle" textLength="168.62" lengthAdjust="spacing" stroke="#333333" stroke-width="0.1" stroke-linejoin="round">集団<tspan font-size="25.44">の</tspan>状況把握</text></g>
<g><text x="1203.56" y="437.18" font-size="24" font-weight="400" fill="#333333" text-anchor="middle" stroke="#333333" stroke-width="0.1" stroke-linejoin="round">・</text><text x="1298.9" y="437.18" font-size="24" font-weight="400" fill="#333333" text-anchor="middle" textLength="169.4" lengthAdjust="spacing" stroke="#333333" stroke-width="0.1" stroke-linejoin="round">参加推進<tspan font-size="25.44">に</tspan>活用</text></g>
<g><text transform="translate(360.17 460.55) scale(1.08 1)" font-size="32" font-weight="500" fill="#ffffff" text-anchor="middle" textLength="63.11" lengthAdjust="spacing" stroke="#ffffff" stroke-width="0.55" stroke-linejoin="round">専用</text> <text x="417.65" y="460.55" font-size="36.16" font-weight="700" fill="#ffffff" text-anchor="middle" textLength="31.1" lengthAdjust="spacingAndGlyphs">IC</text> <text transform="translate(645.73 460.55) scale(1.08 1)" font-size="32" font-weight="500" fill="#ffffff" text-anchor="middle" textLength="374.23" lengthAdjust="spacing" stroke="#ffffff" stroke-width="0.55" stroke-linejoin="round">カードリーダー<tspan font-size="33.28">にかざして</tspan></text></g>
<g><text transform="translate(588.9 500.75) scale(1.08 1)" font-size="32" font-weight="500" fill="#ffffff" text-anchor="middle" textLength="378.92" lengthAdjust="spacing" stroke="#ffffff" stroke-width="0.55" stroke-linejoin="round">計測データ<tspan font-size="33.28">を</tspan>アップロード</text></g>
<g><text x="71.03" y="548.75" font-size="21.06" font-weight="400" fill="#333333" text-anchor="middle" textLength="6.36" lengthAdjust="spacingAndGlyphs" stroke="#333333" stroke-width="0.1" stroke-linejoin="round">(</text> <text x="99.76" y="548.75" font-size="19.5" font-weight="400" fill="#333333" text-anchor="middle" textLength="40.84" lengthAdjust="spacing" stroke="#333333" stroke-width="0.1" stroke-linejoin="round">専用</text> <text x="150.46" y="548.75" font-size="21.06" font-weight="400" fill="#333333" text-anchor="middle" textLength="52.5" lengthAdjust="spacingAndGlyphs" stroke="#333333" stroke-width="0.1" stroke-linejoin="round">FeliCa</text><text x="182.62" y="542.31" font-size="9.75" font-weight="400" fill="#333333" text-anchor="middle" textLength="7.24" lengthAdjust="spacingAndGlyphs" stroke="#333333" stroke-width="0.1" stroke-linejoin="round">®</text> <text x="210.61" y="548.75" font-size="21.06" font-weight="400" fill="#333333" text-anchor="middle" textLength="36.56" lengthAdjust="spacingAndGlyphs" stroke="#333333" stroke-width="0.1" stroke-linejoin="round">R/W</text> <text x="268.02" y="548.75" font-size="21.06" font-weight="400" fill="#333333" text-anchor="middle" textLength="70.15" lengthAdjust="spacingAndGlyphs" stroke="#333333" stroke-width="0.1" stroke-linejoin="round">MY200)</text></g>
<g><text x="499.5" y="599.92" font-size="33.5" font-weight="700" fill="#8e0849" text-anchor="middle" textLength="269.9" lengthAdjust="spacing">健康データ<tspan font-size="35.51">を</tspan>送信</text></g>
<g><text x="415.74" y="661.59" font-size="26" font-weight="400" fill="#ffffff" text-anchor="middle" textLength="312.53" lengthAdjust="spacing">非接触通信<tspan font-size="27.56">による</tspan>自動認証</text></g>
<g><text x="756.27" y="663.92" font-size="26" font-weight="400" fill="#ffffff" text-anchor="middle" textLength="103.53" lengthAdjust="spacing">有線接続</text></g>
<g><text x="236.74" y="763.11" font-size="33.5" font-weight="700" fill="#ffffff" text-anchor="middle" textLength="205.75" lengthAdjust="spacing" stroke="#ffffff" stroke-width="0.12" stroke-linejoin="round">毎日<tspan font-size="35.51">の</tspan>歩数<tspan font-size="35.51">や</tspan></text></g>
<g><text x="235.66" y="803.35" font-size="33.5" font-weight="700" fill="#ffffff" text-anchor="middle" textLength="203.86" lengthAdjust="spacing" stroke="#ffffff" stroke-width="0.12" stroke-linejoin="round">活動量<tspan font-size="35.51">を</tspan>記録</text></g>
<g><text x="279.02" y="877.02" font-size="21.5" font-weight="700" fill="#24457a" text-anchor="middle" textLength="65.89" lengthAdjust="spacing">個人<tspan font-size="22.79">の</tspan></text> <text x="328.75" y="877.02" font-size="24.08" font-weight="700" fill="#24457a" text-anchor="middle" textLength="21.17" lengthAdjust="spacingAndGlyphs">ID</text> <text x="377.94" y="877.02" font-size="21.5" font-weight="700" fill="#24457a" text-anchor="middle" textLength="68.48" lengthAdjust="spacing"><tspan font-size="22.79">となる</tspan></text></g>
<g><text x="322.97" y="911.07" font-size="21.5" font-weight="700" fill="#24457a" text-anchor="middle" textLength="153.88" lengthAdjust="spacing">活動量計<tspan font-size="22.79">を</tspan>携帯</text></g>
<g><text x="89.36" y="1017.13" font-size="21.92" font-weight="400" fill="#333333" text-anchor="middle" textLength="53.08" lengthAdjust="spacingAndGlyphs" stroke="#333333" stroke-width="0.1" stroke-linejoin="round">FeliCa</text> <text x="142.01" y="1017.13" font-size="20.3" font-weight="400" fill="#333333" text-anchor="middle" textLength="41.72" lengthAdjust="spacing" stroke="#333333" stroke-width="0.1" stroke-linejoin="round">内蔵</text></g>
<g><text x="71.78" y="1043.7" font-size="19.5" font-weight="400" fill="#333333" text-anchor="middle" textLength="78.3" lengthAdjust="spacing" stroke="#333333" stroke-width="0.1" stroke-linejoin="round">活動量計</text> <text x="155.12" y="1043.7" font-size="21.06" font-weight="400" fill="#333333" text-anchor="middle" textLength="75.79" lengthAdjust="spacingAndGlyphs" stroke="#333333" stroke-width="0.1" stroke-linejoin="round">(AM150)</text></g>
<g><text x="688.66" y="758.86" font-size="33.5" font-weight="700" fill="#ffffff" text-anchor="middle" textLength="239.86" lengthAdjust="spacing" stroke="#ffffff" stroke-width="0.12" stroke-linejoin="round">測定スポット<tspan font-size="35.51">で</tspan></text></g>
<g><text x="688.82" y="798.45" font-size="33.5" font-weight="700" fill="#ffffff" text-anchor="middle" textLength="169.35" lengthAdjust="spacing" stroke="#ffffff" stroke-width="0.12" stroke-linejoin="round">体組成計測</text></g>
<g><text x="778.13" y="874.57" font-size="21.5" font-weight="700" fill="#24457a" text-anchor="middle" textLength="153.85" lengthAdjust="spacing">プログラム対応</text></g>
<g><text x="789.06" y="907.99" font-size="21.5" font-weight="700" fill="#24457a" text-anchor="middle" textLength="174.79" lengthAdjust="spacing">業務用<tspan font-size="22.79">の</tspan>測定機器</text></g>
<g><text x="544.54" y="1080.91" font-size="19.5" font-weight="400" fill="#333333" text-anchor="middle" textLength="140.3" lengthAdjust="spacing" stroke="#333333" stroke-width="0.1" stroke-linejoin="round">業務用体組成計</text></g>
<g><text x="686.54" y="1081.17" font-size="19.5" font-weight="400" fill="#333333" text-anchor="middle" textLength="120.78" lengthAdjust="spacing" stroke="#333333" stroke-width="0.1" stroke-linejoin="round">タニタ血圧計</text></g>
<g><text x="827.1" y="1081.14" font-size="19.5" font-weight="400" fill="#333333" text-anchor="middle" textLength="120.47" lengthAdjust="spacing" stroke="#333333" stroke-width="0.1" stroke-linejoin="round">結果レポート</text></g>
<g><text x="1138.63" y="759.88" font-size="33.5" font-weight="700" fill="#ffffff" text-anchor="middle" textLength="169.96" lengthAdjust="spacing" stroke="#ffffff" stroke-width="0.12" stroke-linejoin="round">健康状態<tspan font-size="35.51">や</tspan></text></g>
<g><text x="1137.85" y="798.98" font-size="33.5" font-weight="700" fill="#ffffff" text-anchor="middle" textLength="338.41" lengthAdjust="spacing" stroke="#ffffff" stroke-width="0.12" stroke-linejoin="round">健康リズム<tspan font-size="35.51">の</tspan>見<tspan font-size="35.51">える</tspan>化</text></g>
<g><text x="1203.41" y="873.82" font-size="21.5" font-weight="700" fill="#c7402b" text-anchor="middle" textLength="88" lengthAdjust="spacing">各個人<tspan font-size="22.79">の</tspan></text> <text x="1265.43" y="873.82" font-size="24.08" font-weight="700" fill="#c7402b" text-anchor="middle" textLength="25.62" lengthAdjust="spacingAndGlyphs">PC</text> <text x="1295.28" y="873.82" font-size="21.5" font-weight="700" fill="#c7402b" text-anchor="middle"><tspan font-size="22.79">や</tspan></text></g>
<g><text x="1224.97" y="907.91" font-size="21.5" font-weight="700" fill="#c7402b" text-anchor="middle" textLength="131.89" lengthAdjust="spacing">スマホ<tspan font-size="22.79">で</tspan>確認</text></g>
<g><text x="1019.7" y="1010.87" font-size="19.5" font-weight="400" fill="#333333" text-anchor="middle" textLength="80.02" lengthAdjust="spacing" stroke="#333333" stroke-width="0.1" stroke-linejoin="round">健康管理</text></g>
<g><text x="987.38" y="1039.19" font-size="21.06" font-weight="400" fill="#333333" text-anchor="middle" textLength="41.8" lengthAdjust="spacingAndGlyphs" stroke="#333333" stroke-width="0.1" stroke-linejoin="round">Web</text> <text x="1042.96" y="1039.19" font-size="19.5" font-weight="400" fill="#333333" text-anchor="middle" textLength="58.5" lengthAdjust="spacing" stroke="#333333" stroke-width="0.1" stroke-linejoin="round">サイト</text></g>
</g>
</svg>
</body>
</html>
